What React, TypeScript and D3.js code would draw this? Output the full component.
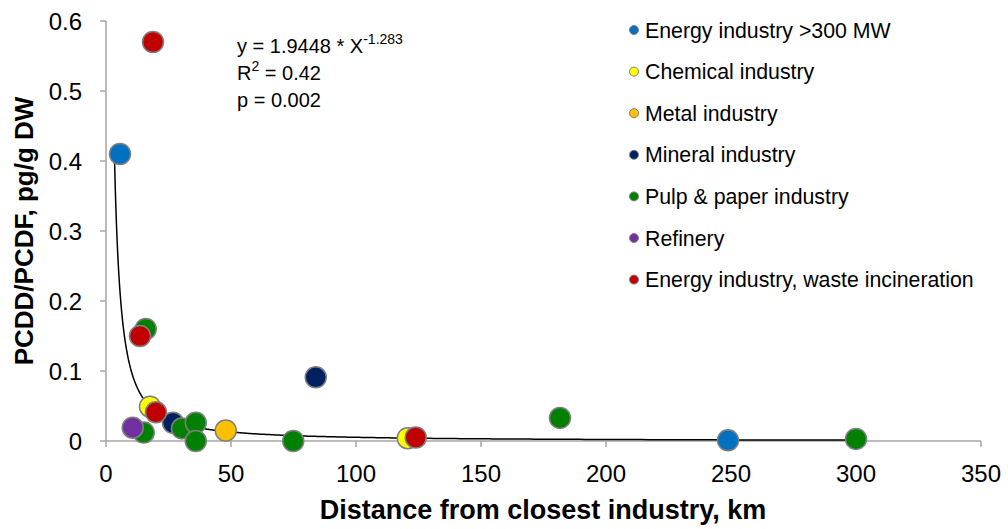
import React from "react";
import * as d3 from "d3";

const seriesNames = [
  "Energy industry >300 MW",
  "Chemical industry",
  "Metal industry",
  "Mineral industry",
  "Pulp & paper industry",
  "Refinery",
  "Energy industry, waste incineration",
];
const seriesColors = ["#0070C0", "#FFFF00", "#FFC000", "#002060", "#008000", "#7030A0", "#C00000"];

const energyX = [5.6, 248.8];
const energyY = [0.41, 0.001];
const chemX = [17.6, 120.7];
const chemY = [0.049, 0.004];
const metalX = [47.9];
const metalY = [0.015];
const mineralX = [26.8, 83.9];
const mineralY = [0.026, 0.091];
const pulpX = [15.9, 15.1, 30.4, 35.9, 35.9, 74.9, 181.6, 300];
const pulpY = [0.16, 0.012, 0.018, 0.026, 0.0, 0.0, 0.033, 0.003];
const refineryX = [10.7];
const refineryY = [0.019];
const wasteX = [18.8, 13.6, 20, 123.9];
const wasteY = [0.57, 0.15, 0.041, 0.005];

const xTicks = [0, 50, 100, 150, 200, 250, 300, 350];
const yTicks = [0, 0.1, 0.2, 0.3, 0.4, 0.5, 0.6];

const fitA = 1.9448;
const fitB = -1.283;

const allX = [energyX, chemX, metalX, mineralX, pulpX, refineryX, wasteX];
const allY = [energyY, chemY, metalY, mineralY, pulpY, refineryY, wasteY];

export default function App() {
  const W = 1008, H = 529;
  const x = d3.scaleLinear().domain([0, 350]).range([106, 981]);
  const y = d3.scaleLinear().domain([0, 0.6]).range([441, 21]);
  const font = "'Liberation Sans', Arial, sans-serif";
  const axisColor = "#A6A6A6";

  const xStart = Math.pow(0.405 / fitA, 1 / fitB);
  const fitPts: [number, number][] = [];
  const n = 400;
  for (let i = 0; i <= n; i++) {
    const xv = xStart * Math.pow(300 / xStart, i / n);
    fitPts.push([xv, fitA * Math.pow(xv, fitB)]);
  }
  const line = d3.line<[number, number]>().x((d) => x(d[0])).y((d) => y(d[1]));

  return (
    <svg width={W} height={H} style={{ position: "absolute", left: 0, top: 0, background: "#fff" }} fontFamily={font}>
      {/* axes */}
      <line x1={x(0)} x2={x(350)} y1={y(0)} y2={y(0)} stroke={axisColor} strokeWidth={1.5} />
      <line x1={x(0)} x2={x(0)} y1={y(0)} y2={y(0.6)} stroke={axisColor} strokeWidth={1.5} />
      {xTicks.map((t) => (
        <g key={"xt" + t}>
          <line x1={x(t)} x2={x(t)} y1={y(0)} y2={y(0) + 6} stroke={axisColor} strokeWidth={1.5} />
          <text x={x(t)} y={482} textAnchor="middle" fontSize={24} fill="#000">{t}</text>
        </g>
      ))}
      {yTicks.map((t) => (
        <g key={"yt" + t}>
          <line x1={x(0) - 6} x2={x(0)} y1={y(t)} y2={y(t)} stroke={axisColor} strokeWidth={1.5} />
          <text x={82} y={y(t) + 9} textAnchor="end" fontSize={24} fill="#000">{t === 0 ? "0" : t.toFixed(1)}</text>
        </g>
      ))}
      {/* fit */}
      <path d={line(fitPts) || ""} fill="none" stroke="#000" strokeWidth={1.5} />
      {/* points */}
      {allX.map((xs, si) =>
        xs.map((xv, i) => (
          <circle key={si + "-" + i} cx={x(xv)} cy={y(allY[si][i])} r={10.5}
            fill={seriesColors[si]} stroke="#7F7F7F" strokeWidth={1.5} />
        ))
      )}
      {/* equation */}
      <text x={237} y={53} fontSize={20} fill="#000">
        y = 1.9448 * X<tspan dy={-9} fontSize={14}>-1.283</tspan>
      </text>
      <text x={237} y={80} fontSize={20} fill="#000">
        R<tspan dy={-9} fontSize={14}>2</tspan><tspan dy={9}> = 0.42</tspan>
      </text>
      <text x={237} y={107} fontSize={20} fill="#000">p = 0.002</text>
      {/* legend */}
      {seriesNames.map((s, i) => (
        <g key={"lg" + i}>
          <circle cx={634} cy={30 + i * 41.6} r={4.5} fill={seriesColors[i]} stroke="#7F7F7F" strokeWidth={1} />
          <text x={645} y={30 + i * 41.6 + 7.5} fontSize={21.3} fill="#000">{s}</text>
        </g>
      ))}
      {/* axis titles */}
      <text x={543} y={519} textAnchor="middle" fontSize={27} fontWeight="bold" fill="#000">
        Distance from closest industry, km
      </text>
      <text transform={`translate(33, 231) rotate(-90)`} textAnchor="middle" fontSize={26} fontWeight="bold" fill="#000">
        PCDD/PCDF, pg/g DW
      </text>
    </svg>
  );
}
